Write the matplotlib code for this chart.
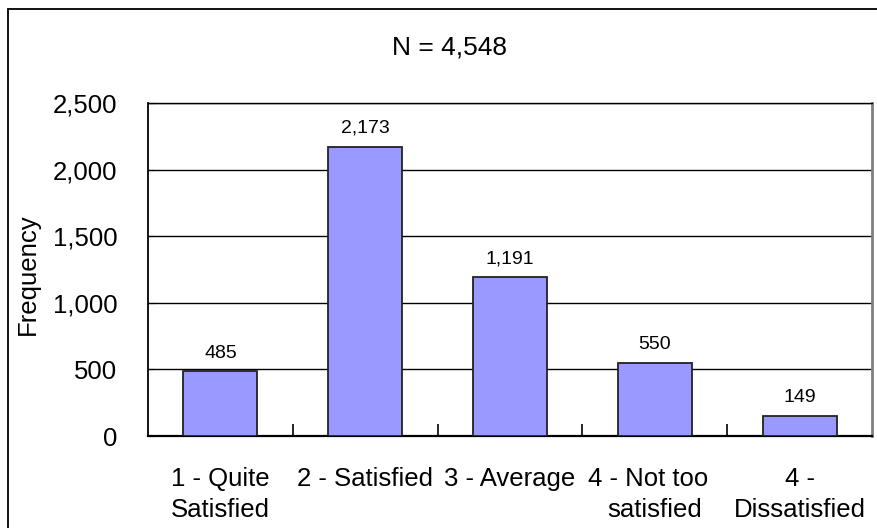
import matplotlib
matplotlib.use("Agg")
import matplotlib.pyplot as plt
from matplotlib.patches import Rectangle

plt.rcParams['font.family'] = ['Liberation Sans', 'DejaVu Sans']

categories = ["1 - Quite\nSatisfied", "2 - Satisfied", "3 - Average",
              "4 - Not too  \nsatisfied", "4 -\nDissatisfied"]
frequencies = [485, 2173, 1191, 550, 149]
y_ticks = [0, 500, 1000, 1500, 2000, 2500]
title = "N = 4,548"

W, H = 877, 528
fig = plt.figure(figsize=(W / 100, H / 100), dpi=100)

# outer chart border
fig.patches.append(Rectangle((8 / W, 1 - 540 / H), 882 / W, 531 / H,
                             transform=fig.transFigure, fill=False,
                             edgecolor='black', linewidth=1.3, zorder=0))

ax = fig.add_axes([148 / W, 1 - 436 / H, 724 / W, 333 / H])
x = range(len(categories))
bars = ax.bar(x, frequencies, width=0.51, color='#9999FF',
              edgecolor='#222222', linewidth=1.3, zorder=3)

ax.set_xlim(-0.5, len(categories) - 0.5)
ax.set_ylim(0, 2500)
ax.set_yticks(y_ticks)
ax.set_yticklabels([f"{v:,}" for v in y_ticks])
ax.yaxis.grid(True, color='black', linewidth=1.0, zorder=0)
ax.set_axisbelow(True)

ax.set_xticks(list(x))
ax.set_xticklabels(categories, fontsize=18.5, linespacing=1.4)
ax.tick_params(axis='x', length=0, pad=22)
ax.set_xticks([i + 0.5 for i in range(len(categories) - 1)], minor=True)
ax.tick_params(axis='x', which='minor', direction='in', length=9,
               width=1.2, color='black')
ax.tick_params(axis='y', direction='in', length=4, labelsize=18.5, pad=22)

for side in ('left', 'top', 'bottom'):
    ax.spines[side].set_color('black')
ax.spines['left'].set_linewidth(1.3)
ax.spines['top'].set_linewidth(1.0)
ax.spines['bottom'].set_linewidth(1.6)
ax.spines['right'].set_color('#808080')
ax.spines['right'].set_linewidth(2.0)

for rect, v in zip(bars, frequencies):
    ax.annotate(f"{v:,}", (rect.get_x() + rect.get_width() / 2, v),
                xytext=(0, 7), textcoords='offset points',
                ha='center', va='bottom', fontsize=14)

ax.set_ylabel("Frequency", fontsize=18.5)
ax.yaxis.set_label_coords(-0.15, 0.485)

fig.text(449 / W, 1 - 47 / H, title, ha='center', va='center', fontsize=19)

fig.savefig("out.png", dpi=100)
